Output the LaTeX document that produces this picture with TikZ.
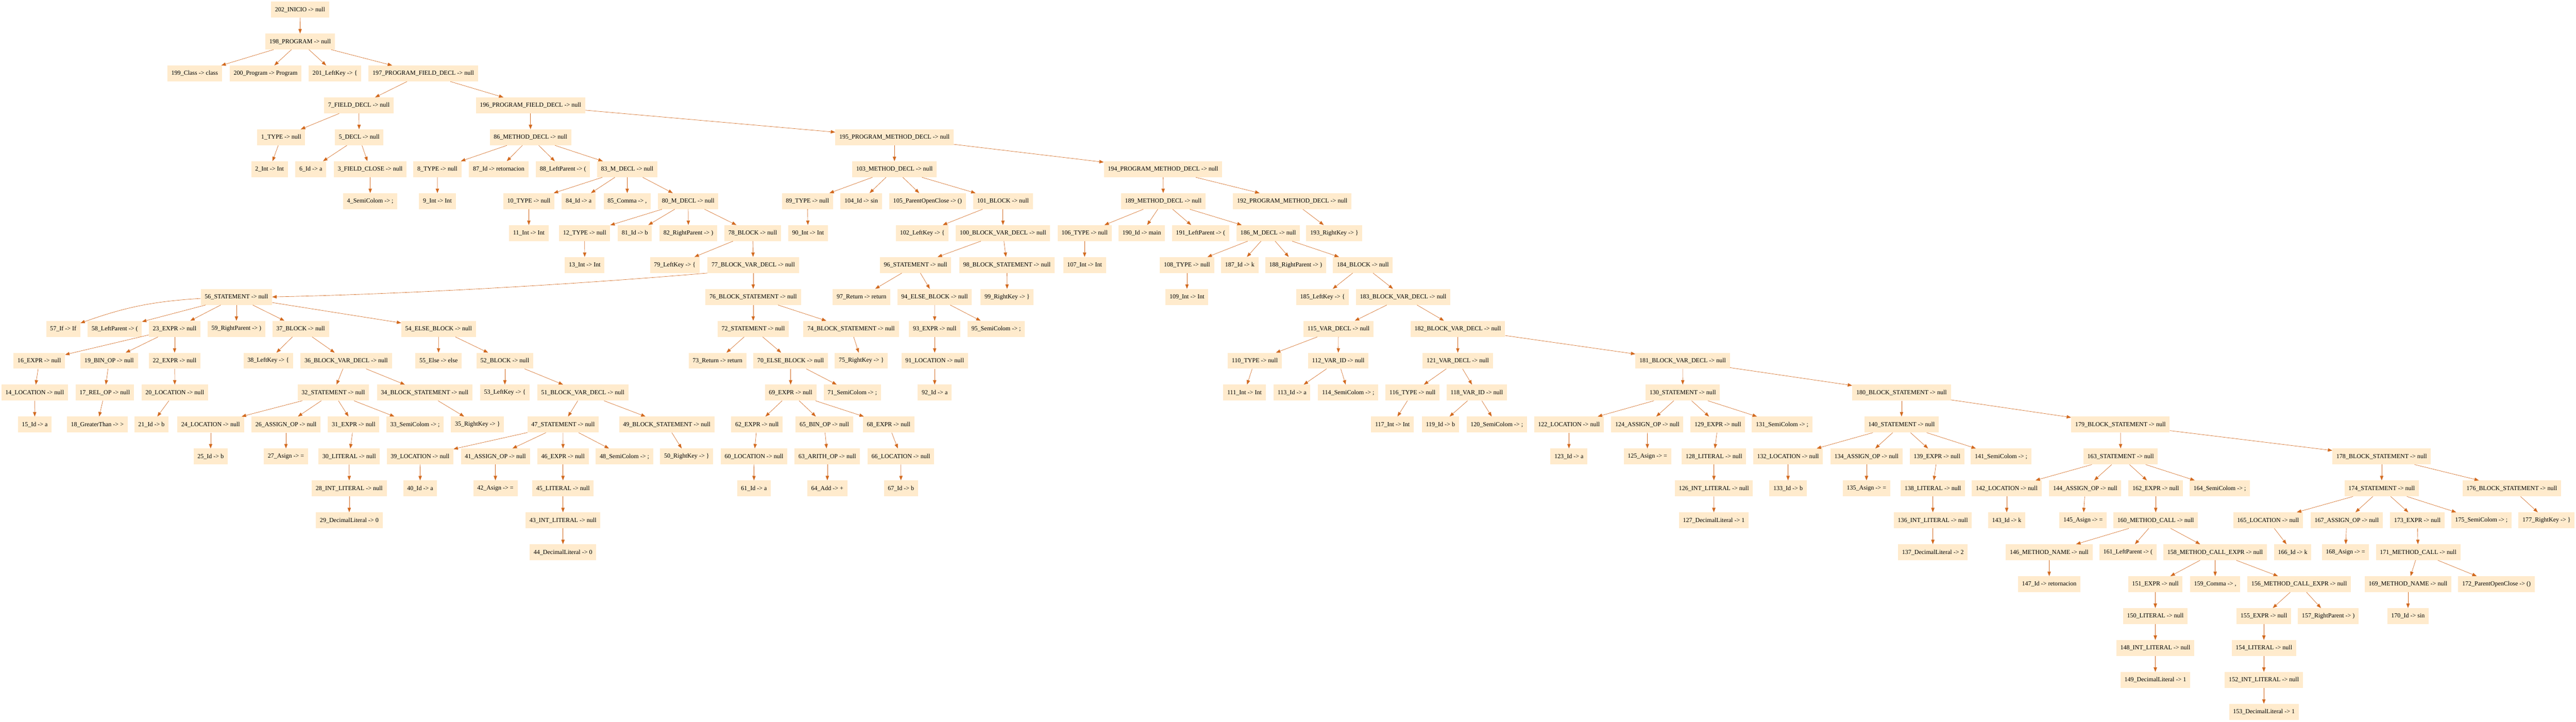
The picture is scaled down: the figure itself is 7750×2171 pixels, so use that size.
\documentclass[tikz,border=0pt]{standalone}
\usepackage{fontspec}
\setmainfont{Liberation Serif}
\usetikzlibrary{arrows.meta}
\definecolor{nodefill}{HTML}{FFEBCD}
\definecolor{edgecol}{HTML}{D2691E}
\newcommand\gvn[4]{\node[gvnode] (n#1) at (#2,{29+96*#3}) {#1\_#4};}
\begin{document}
\begin{tikzpicture}[x=0.75pt,y=-0.75pt,
  gvnode/.style={rectangle, fill=nodefill, draw=none, minimum height=36pt, minimum width=54pt, inner xsep=9pt, inner ysep=0pt, font=\fontsize{14}{16}\selectfont},
  gvedge/.style={draw=edgecol, line width=0.75pt, -{Triangle[length=10pt,width=7.5pt]}}]
\useasboundingbox (0,0) rectangle (7750,2171);
% row 0-4
\gvn{202}{902.6}{0}{INICIO -> null}
\gvn{198}{903}{1}{PROGRAM -> null}
\gvn{199}{585.7}{2}{Class -> class}
\gvn{200}{799}{2}{Program -> Program}
\gvn{201}{1007.7}{2}{LeftKey -> \{}
\gvn{197}{1273.5}{2}{PROGRAM\_FIELD\_DECL -> null}
\gvn{7}{1079.6}{3}{FIELD\_DECL -> null}
\gvn{196}{1596}{3}{PROGRAM\_FIELD\_DECL -> null}
\gvn{1}{846}{4}{TYPE -> null}
\gvn{5}{1080.6}{4}{DECL -> null}
\gvn{86}{1596}{4}{METHOD\_DECL -> null}
\gvn{195}{2691}{4}{PROGRAM\_METHOD\_DECL -> null}
% row 5
\gvn{2}{811}{5}{Int -> Int}
\gvn{6}{935}{5}{Id -> a}
\gvn{3}{1113.8}{5}{FIELD\_CLOSE -> null}
\gvn{8}{1315.8}{5}{TYPE -> null}
\gvn{87}{1500.5}{5}{Id -> retornacion}
\gvn{88}{1693.6}{5}{LeftParent -> (}
\gvn{83}{1887}{5}{M\_DECL -> null}
\gvn{103}{2691}{5}{METHOD\_DECL -> null}
\gvn{194}{3499}{5}{PROGRAM\_METHOD\_DECL -> null}
% row 6
\gvn{4}{1113.8}{6}{SemiColom -> ;}
\gvn{9}{1316}{6}{Int -> Int}
\gvn{10}{1591}{6}{TYPE -> null}
\gvn{84}{1740.9}{6}{Id -> a}
\gvn{85}{1887}{6}{Comma -> ,}
\gvn{80}{2070.5}{6}{M\_DECL -> null}
\gvn{89}{2429.2}{6}{TYPE -> null}
\gvn{104}{2590.9}{6}{Id -> sin}
\gvn{105}{2790.5}{6}{ParentOpenClose -> ()}
\gvn{101}{3017.4}{6}{BLOCK -> null}
\gvn{189}{3499.6}{6}{METHOD\_DECL -> null}
\gvn{192}{3887.6}{6}{PROGRAM\_METHOD\_DECL -> null}
% row 7
\gvn{11}{1591}{7}{Int -> Int}
\gvn{12}{1758.9}{7}{TYPE -> null}
\gvn{81}{1910}{7}{Id -> b}
\gvn{82}{2071}{7}{RightParent -> )}
\gvn{78}{2264.5}{7}{BLOCK -> null}
\gvn{90}{2431}{7}{Int -> Int}
\gvn{102}{2775}{7}{LeftKey -> \{}
\gvn{100}{3017.4}{7}{BLOCK\_VAR\_DECL -> null}
\gvn{106}{3263}{7}{TYPE -> null}
\gvn{190}{3435}{7}{Id -> main}
\gvn{191}{3612}{7}{LeftParent -> (}
\gvn{186}{3815.5}{7}{M\_DECL -> null}
\gvn{193}{4014.4}{7}{RightKey -> \}}
% row 8
\gvn{13}{1759}{8}{Int -> Int}
\gvn{79}{2030}{8}{LeftKey -> \{}
\gvn{77}{2266}{8}{BLOCK\_VAR\_DECL -> null}
\gvn{96}{2754.4}{8}{STATEMENT -> null}
\gvn{98}{3029.3}{8}{BLOCK\_STATEMENT -> null}
\gvn{107}{3263}{8}{Int -> Int}
\gvn{108}{3571}{8}{TYPE -> null}
\gvn{187}{3729.7}{8}{Id -> k}
\gvn{188}{3898}{8}{RightParent -> )}
\gvn{184}{4100.3}{8}{BLOCK -> null}
% row 9
\gvn{56}{711.3}{9}{STATEMENT -> null}
\gvn{76}{2266}{9}{BLOCK\_STATEMENT -> null}
\gvn{97}{2592}{9}{Return -> return}
\gvn{94}{2811.8}{9}{ELSE\_BLOCK -> null}
\gvn{99}{3030}{9}{RightKey -> \}}
\gvn{109}{3571}{9}{Int -> Int}
\gvn{185}{3979}{9}{LeftKey -> \{}
\gvn{183}{4221.5}{9}{BLOCK\_VAR\_DECL -> null}
% row 10
\gvn{57}{190.2}{10}{If -> If}
\gvn{58}{345.3}{10}{LeftParent -> (}
\gvn{23}{525.3}{10}{EXPR -> null}
\gvn{59}{711.3}{10}{RightParent -> )}
\gvn{37}{904.5}{10}{BLOCK -> null}
\gvn{54}{1319.5}{10}{ELSE\_BLOCK -> null}
\gvn{72}{2266}{10}{STATEMENT -> null}
\gvn{74}{2560.4}{10}{BLOCK\_STATEMENT -> null}
\gvn{93}{2812}{10}{EXPR -> null}
\gvn{95}{2997}{10}{SemiColom -> ;}
\gvn{115}{4026.9}{10}{VAR\_DECL -> null}
\gvn{182}{4385.7}{10}{BLOCK\_VAR\_DECL -> null}
% row 11
\gvn{16}{118.1}{11}{EXPR -> null}
\gvn{19}{328.4}{11}{BIN\_OP -> null}
\gvn{22}{525.3}{11}{EXPR -> null}
\gvn{38}{807}{11}{LeftKey -> \{}
\gvn{36}{1041.5}{11}{BLOCK\_VAR\_DECL -> null}
\gvn{55}{1319.3}{11}{Else -> else}
\gvn{52}{1518.9}{11}{BLOCK -> null}
\gvn{73}{2158.5}{11}{Return -> return}
\gvn{70}{2378.6}{11}{ELSE\_BLOCK -> null}
\gvn{75}{2591.3}{11}{RightKey -> \}}
\gvn{91}{2812}{11}{LOCATION -> null}
\gvn{110}{3775}{11}{TYPE -> null}
\gvn{112}{4026.3}{11}{VAR\_ID -> null}
\gvn{121}{4385.7}{11}{VAR\_DECL -> null}
\gvn{181}{5062.4}{11}{BLOCK\_VAR\_DECL -> null}
% row 12
\gvn{14}{104.2}{12}{LOCATION -> null}
\gvn{17}{315}{12}{REL\_OP -> null}
\gvn{20}{525.9}{12}{LOCATION -> null}
\gvn{32}{1002.7}{12}{STATEMENT -> null}
\gvn{34}{1277.7}{12}{BLOCK\_STATEMENT -> null}
\gvn{53}{1518.9}{12}{LeftKey -> \{}
\gvn{51}{1753.3}{12}{BLOCK\_VAR\_DECL -> null}
\gvn{69}{2378.6}{12}{EXPR -> null}
\gvn{71}{2564}{12}{SemiColom -> ;}
\gvn{92}{2812}{12}{Id -> a}
\gvn{111}{3744}{12}{Int -> Int}
\gvn{113}{3887}{12}{Id -> a}
\gvn{114}{4056}{12}{SemiColom -> ;}
\gvn{116}{4249.5}{12}{TYPE -> null}
\gvn{118}{4442.9}{12}{VAR\_ID -> null}
\gvn{130}{5062.6}{12}{STATEMENT -> null}
\gvn{180}{5720.8}{12}{BLOCK\_STATEMENT -> null}
% row 13
\gvn{15}{104.5}{13}{Id -> a}
\gvn{18}{292.6}{13}{GreaterThan -> >}
\gvn{21}{455.6}{13}{Id -> b}
\gvn{24}{633.7}{13}{LOCATION -> null}
\gvn{26}{860.3}{13}{ASSIGN\_OP -> null}
\gvn{31}{1063.9}{13}{EXPR -> null}
\gvn{33}{1248.6}{13}{SemiColom -> ;}
\gvn{35}{1436.5}{13}{RightKey -> \}}
\gvn{47}{1694}{13}{STATEMENT -> null}
\gvn{49}{2006}{13}{BLOCK\_STATEMENT -> null}
\gvn{62}{2277.3}{13}{EXPR -> null}
\gvn{65}{2480}{13}{BIN\_OP -> null}
\gvn{68}{2673.4}{13}{EXPR -> null}
\gvn{117}{4189}{13}{Int -> Int}
\gvn{119}{4333.4}{13}{Id -> b}
\gvn{120}{4503}{13}{SemiColom -> ;}
\gvn{122}{4720.2}{13}{LOCATION -> null}
\gvn{124}{4955.8}{13}{ASSIGN\_OP -> null}
\gvn{129}{5168.3}{13}{EXPR -> null}
\gvn{131}{5361.4}{13}{SemiColom -> ;}
\gvn{140}{5720.8}{13}{STATEMENT -> null}
\gvn{179}{6379.5}{13}{BLOCK\_STATEMENT -> null}
% row 14
\gvn{25}{633.7}{14}{Id -> b}
\gvn{27}{860.3}{14}{Asign -> =}
\gvn{30}{1050.5}{14}{LITERAL -> null}
\gvn{39}{1263.8}{14}{LOCATION -> null}
\gvn{41}{1490.4}{14}{ASSIGN\_OP -> null}
\gvn{46}{1693.7}{14}{EXPR -> null}
\gvn{48}{1878.7}{14}{SemiColom -> ;}
\gvn{50}{2065.9}{14}{RightKey -> \}}
\gvn{60}{2268.6}{14}{LOCATION -> null}
\gvn{63}{2489}{14}{ARITH\_OP -> null}
\gvn{66}{2710.3}{14}{LOCATION -> null}
\gvn{123}{4720.2}{14}{Id -> a}
\gvn{125}{4956.3}{14}{Asign -> =}
\gvn{128}{5156.3}{14}{LITERAL -> null}
\gvn{132}{5379.3}{14}{LOCATION -> null}
\gvn{134}{5615.3}{14}{ASSIGN\_OP -> null}
\gvn{139}{5827.4}{14}{EXPR -> null}
\gvn{141}{6020.2}{14}{SemiColom -> ;}
\gvn{163}{6380}{14}{STATEMENT -> null}
\gvn{178}{7165.3}{14}{BLOCK\_STATEMENT -> null}
% row 15
\gvn{28}{1050.7}{15}{INT\_LITERAL -> null}
\gvn{40}{1264.1}{15}{Id -> a}
\gvn{42}{1490.4}{15}{Asign -> =}
\gvn{45}{1693.7}{15}{LITERAL -> null}
\gvn{61}{2268.3}{15}{Id -> a}
\gvn{64}{2489}{15}{Add -> +}
\gvn{67}{2710.5}{15}{Id -> b}
\gvn{126}{5156.3}{15}{INT\_LITERAL -> null}
\gvn{133}{5379.3}{15}{Id -> b}
\gvn{135}{5615.3}{15}{Asign -> =}
\gvn{138}{5815}{15}{LITERAL -> null}
\gvn{142}{6037.2}{15}{LOCATION -> null}
\gvn{144}{6273.5}{15}{ASSIGN\_OP -> null}
\gvn{162}{6485.5}{15}{EXPR -> null}
\gvn{164}{6678.2}{15}{SemiColom -> ;}
\gvn{174}{7165.3}{15}{STATEMENT -> null}
\gvn{176}{7556.7}{15}{BLOCK\_STATEMENT -> null}
% row 16
\gvn{29}{1050.7}{16}{DecimalLiteral -> 0}
\gvn{43}{1693.7}{16}{INT\_LITERAL -> null}
\gvn{127}{5156}{16}{DecimalLiteral -> 1}
\gvn{136}{5815}{16}{INT\_LITERAL -> null}
\gvn{143}{6037.2}{16}{Id -> k}
\gvn{145}{6267}{16}{Asign -> =}
\gvn{160}{6485.5}{16}{METHOD\_CALL -> null}
\gvn{165}{6823.6}{16}{LOCATION -> null}
\gvn{167}{7059.9}{16}{ASSIGN\_OP -> null}
\gvn{173}{7272.5}{16}{EXPR -> null}
\gvn{175}{7465.2}{16}{SemiColom -> ;}
\gvn{177}{7661.5}{16}{RightKey -> \}}
% row 17
\gvn{44}{1693.7}{17}{DecimalLiteral -> 0}
\gvn{137}{5815}{17}{DecimalLiteral -> 2}
\gvn{146}{6165}{17}{METHOD\_NAME -> null}
\gvn{161}{6402}{17}{LeftParent -> (}
\gvn{158}{6664.3}{17}{METHOD\_CALL\_EXPR -> null}
\gvn{166}{6897.5}{17}{Id -> k}
\gvn{168}{7056.3}{17}{Asign -> =}
\gvn{171}{7275}{17}{METHOD\_CALL -> null}
% row 18
\gvn{147}{6165}{18}{Id -> retornacion}
\gvn{151}{6484.3}{18}{EXPR -> null}
\gvn{159}{6664.3}{18}{Comma -> ,}
\gvn{156}{6917}{18}{METHOD\_CALL\_EXPR -> null}
\gvn{169}{7244.5}{18}{METHOD\_NAME -> null}
\gvn{172}{7510.6}{18}{ParentOpenClose -> ()}
% row 19
\gvn{150}{6484.3}{19}{LITERAL -> null}
\gvn{155}{6810.9}{19}{EXPR -> null}
\gvn{157}{7004.7}{19}{RightParent -> )}
\gvn{170}{7244.5}{19}{Id -> sin}
% rows 20-22
\gvn{148}{6484.3}{20}{INT\_LITERAL -> null}
\gvn{154}{6810.9}{20}{LITERAL -> null}
\gvn{149}{6484.3}{21}{DecimalLiteral -> 1}
\gvn{152}{6810.9}{21}{INT\_LITERAL -> null}
\gvn{153}{6810.9}{22}{DecimalLiteral -> 1}
% edges
\foreach \a/\b in {202/198, 198/199, 198/200, 198/201, 198/197, 197/7, 197/196,
  7/1, 7/5, 1/2, 5/6, 5/3, 3/4, 196/86, 196/195,
  86/8, 86/87, 86/88, 86/83, 8/9, 83/10, 83/84, 83/85, 83/80, 10/11,
  80/12, 80/81, 80/82, 80/78, 12/13, 78/79, 78/77, 77/76,
  56/58, 56/23, 56/59, 56/37, 56/54,
  23/16, 23/19, 23/22, 16/14, 14/15, 19/17, 17/18, 22/20, 20/21,
  37/38, 37/36, 36/32, 36/34, 32/24, 32/26, 32/31, 32/33,
  24/25, 26/27, 31/30, 30/28, 28/29, 34/35, 54/55, 54/52, 52/53, 52/51,
  51/47, 51/49, 47/39, 47/41, 47/46, 47/48, 39/40, 41/42, 46/45, 45/43, 43/44, 49/50,
  76/72, 76/74, 72/73, 72/70, 70/69, 70/71, 69/62, 69/65, 69/68,
  62/60, 60/61, 65/63, 63/64, 68/66, 66/67, 74/75,
  195/103, 195/194, 103/89, 103/104, 103/105, 103/101, 89/90, 101/102, 101/100,
  100/96, 100/98, 96/97, 96/94, 94/93, 94/95, 93/91, 91/92, 98/99,
  194/189, 194/192, 192/193, 189/106, 189/190, 189/191, 189/186, 106/107,
  186/108, 186/187, 186/188, 186/184, 108/109, 184/185, 184/183,
  183/115, 183/182, 115/110, 115/112, 110/111, 112/113, 112/114,
  182/121, 182/181, 121/116, 121/118, 116/117, 118/119, 118/120,
  181/130, 181/180, 130/122, 130/124, 130/129, 130/131,
  122/123, 124/125, 129/128, 128/126, 126/127,
  180/140, 180/179, 140/132, 140/134, 140/139, 140/141,
  132/133, 134/135, 139/138, 138/136, 136/137,
  179/163, 179/178, 163/142, 163/144, 163/162, 163/164,
  142/143, 144/145, 162/160, 160/146, 160/161, 160/158, 146/147,
  158/151, 158/159, 158/156, 151/150, 150/148, 148/149,
  156/155, 156/157, 155/154, 154/152, 152/153,
  178/174, 178/176, 174/165, 174/167, 174/173, 174/175,
  165/166, 167/168, 173/171, 171/169, 171/172, 169/170, 176/177}
  \draw[gvedge] (n\a) -- (n\b);
\draw[gvedge] (n56) to[bend right=8] (n57);
\draw[gvedge] (n77.south west) .. controls (1700,858) and (1200,885) .. (n56.east);
\end{tikzpicture}
\end{document}
